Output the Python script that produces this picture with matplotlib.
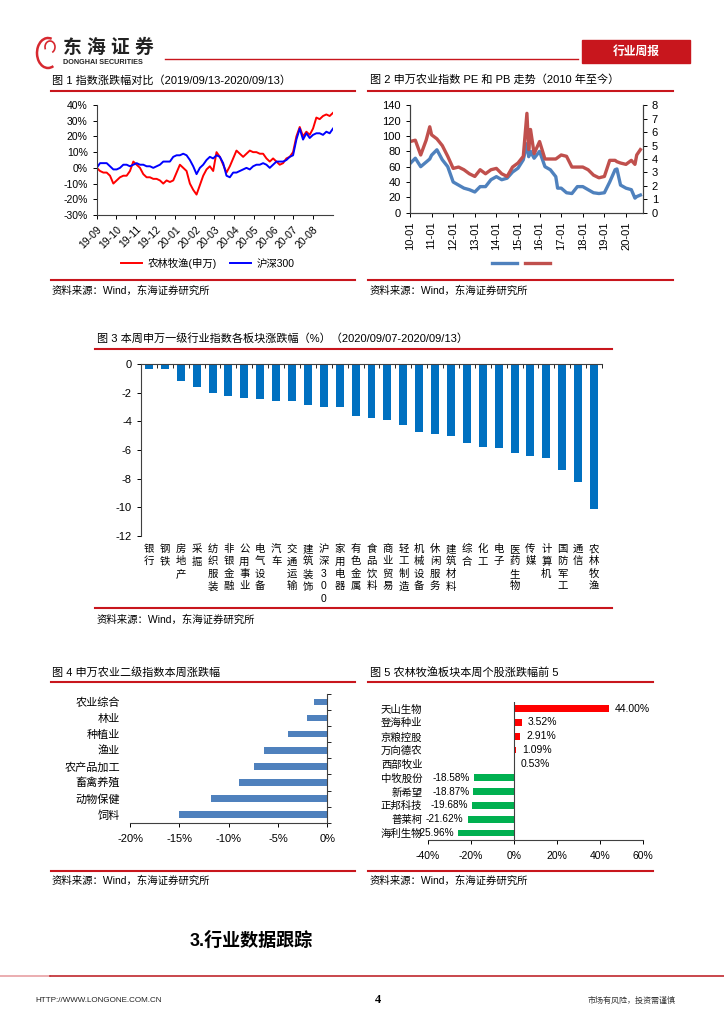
import numpy as np
import pandas as pd
import matplotlib
matplotlib.use("Agg")
import matplotlib.pyplot as plt
from matplotlib.lines import Line2D
from matplotlib.patches import Rectangle, Arc

plt.rcParams['font.family'] = ['Liberation Sans', 'Noto Sans CJK SC', 'DejaVu Sans']
plt.rcParams['axes.unicode_minus'] = False

W, H = 724, 1024
RED = '#C8161D'

# ---- 图1 指数涨跌幅对比 (%) ----
idx_dates = pd.date_range("2019-09-13", "2020-09-13", periods=72)
agri_chg = [0, -2, -3, -3, -5, -10, -8, -6, -5, -5, -2, 4, 2, 0, -4, -6, -6, -7,
            -7, -8, -10, -8, -9, -8, -3, 2, 0, -2, -10, -14, -17, -11, -5, -1, 1, -2,
            10, 7, 2, -3, 1, 6, 11, 9, 7, 9, 11, 10, 10, 9, 9, 6, 4, 6,
            4, 2, 3, 6, 7, 10, 20, 26, 20, 23, 21, 25, 32, 31, 33, 34, 33, 35]
hs300_chg = [0, 3, 3, 3, 1, -1, -1, 0, 2, 2, 1, 2, 3, 2, 2, 1, 1, 0,
             1, 2, 4, 4, 4, 7, 8, 8, 9, 8, 5, 1, -4, 0, 2, 5, 7, 6,
             8, 7, 3, -5, -6, -3, -3, -2, -1, 0, -1, 1, 2, 2, 3, 2, 0, 2,
             4, 4, 4, 5, 7, 8, 18, 25, 18, 22, 19, 21, 22, 22, 21, 23, 22, 25]
fig1_ticks = ['19-09', '19-10', '19-11', '19-12', '20-01', '20-02', '20-03',
              '20-04', '20-05', '20-06', '20-07', '20-08']

# ---- 图2 申万农业指数PE和PB ----
pe_pb_months = ["2010-01", "2010-04", "2010-07", "2010-10", "2010-12",
                "2011-01", "2011-04", "2011-07", "2011-10",
                "2012-01", "2012-04", "2012-07", "2012-10",
                "2013-01", "2013-04", "2013-07", "2013-10",
                "2014-01", "2014-04", "2014-07", "2014-10",
                "2015-01", "2015-04", "2015-06", "2015-07", "2015-08", "2015-10",
                "2016-01", "2016-04", "2016-07", "2016-10", "2016-11",
                "2017-01", "2017-04", "2017-07", "2017-10",
                "2018-01", "2018-04", "2018-07", "2018-10",
                "2019-01", "2019-04", "2019-07", "2019-08", "2019-10",
                "2020-01", "2020-04", "2020-06", "2020-07", "2020-09"]
pe = [64, 71, 60, 66, 70, 75, 82, 69, 60, 40, 36, 32, 30, 27, 34, 34, 43,
      47, 43, 45, 53, 58, 69, 90, 73, 80, 71, 80, 60, 56, 47, 32,
      32, 26, 25, 34, 34, 30, 26, 25, 26, 40, 56, 57, 36, 32, 30, 19, 21, 23]
pb = [5.3, 5.4, 4.3, 5.4, 6.4, 5.8, 5.5, 5.0, 4.2, 3.3, 3.4, 3.2, 2.9,
      2.7, 3.2, 2.9, 3.2, 3.3, 2.9, 2.7, 3.4, 3.7, 4.2, 7.4, 4.7, 6.2, 4.4,
      5.3, 4.0, 4.0, 4.0, 4.1, 4.3, 4.2, 3.4, 3.4, 3.4, 3.2, 2.8, 2.6,
      2.7, 3.9, 3.9, 3.8, 3.7, 3.6, 3.9, 3.6, 4.3, 4.7]
fig2_ticks = ['10-01', '11-01', '12-01', '13-01', '14-01', '15-01', '16-01',
              '17-01', '18-01', '19-01', '20-01']

# ---- 图3 申万一级行业本周涨跌幅 (%) ----
sw_names = ['银行', '钢铁', '房地产', '采掘', '纺织服装', '非银金融', '公用事业',
            '电气设备', '汽车', '交通运输', '建筑装饰', '沪深300', '家用电器',
            '有色金属', '食品饮料', '商业贸易', '轻工制造', '机械设备', '休闲服务',
            '建筑材料', '综合', '化工', '电子', '医药生物', '传媒', '计算机',
            '国防军工', '通信', '农林牧渔']
sw_chg = [-0.35, -0.35, -1.2, -1.6, -2.0, -2.25, -2.37, -2.45, -2.55, -2.55,
          -2.88, -3.0, -3.0, -3.65, -3.77, -3.88, -4.28, -4.77, -4.86, -5.05,
          -5.53, -5.8, -5.88, -6.19, -6.42, -6.58, -7.4, -8.26, -10.14]

# ---- 图4 申万农业二级指数 (%) ----
sub_names = ['农业综合', '林业', '种植业', '渔业', '农产品加工', '畜禽养殖', '动物保健', '饲料']
sub_chg = [-1.35, -2.03, -3.95, -6.4, -7.4, -9.0, -11.8, -15.0]

# ---- 图5 个股涨跌幅前5 (%) ----
stock_names = ['天山生物', '登海种业', '京粮控股', '万向德农', '西部牧业',
               '中牧股份', '新希望', '正邦科技', '普莱柯', '海利生物']
stock_chg = [44.00, 3.52, 2.91, 1.09, 0.53, -18.58, -18.87, -19.68, -21.62, -25.96]

fig = plt.figure(figsize=(W / 100, H / 100), dpi=100)


def add_ax(l, t, r, b):
    return fig.add_axes([l / W, 1 - b / H, (r - l) / W, (b - t) / H])


def ftext(x, y, s, **kw):
    kw.setdefault('va', 'center')
    fig.text(x / W, 1 - y / H, s, **kw)


def hline(x0, x1, y, color=RED, lw=1.5):
    fig.add_artist(Line2D([x0 / W, x1 / W], [1 - y / H] * 2, color=color, lw=lw))


def style(ax, hide):
    for s in hide:
        ax.spines[s].set_visible(False)
    for s in ax.spines.values():
        s.set_color('#404040')
        s.set_linewidth(0.8)
    ax.tick_params(colors='black', width=0.7, length=3, labelsize=7.5)


# ---------- header ----------
fig.add_artist(Arc((48 / W, 1 - 53 / H), 22 / W, 30 / H, theta1=70, theta2=300,
                   color='#D7282F', lw=1.8, transform=fig.transFigure))
fig.add_artist(Arc((50 / W, 1 - 47 / H), 10 / W, 12 / H, theta1=-60, theta2=200,
                   color='#D7282F', lw=1.2, transform=fig.transFigure))
ftext(63, 48, '东 海 证 券', fontsize=13.5, fontweight='bold', color='#222222')
ftext(63, 62, 'DONGHAI SECURITIES', fontsize=5.2, fontweight='bold', color='#222222')
hline(165, 578, 59, lw=1.0)
fig.add_artist(Rectangle((582 / W, 1 - 63 / H), 108 / W, 23 / H, color='#C8161D',
                         transform=fig.transFigure))
ftext(636, 51.5, '行业周报', fontsize=8.5, fontweight='bold', color='white', ha='center')

# ---------- 图1 ----------
ftext(52, 80, '图 1 指数涨跌幅对比（2019/09/13-2020/09/13）', fontsize=8)
hline(51, 355, 91)
ax1 = add_ax(96.7, 105, 333, 215)
l_agri, = ax1.plot(idx_dates, agri_chg, color='#FF0000', lw=1.4)
l_hs, = ax1.plot(idx_dates, hs300_chg, color='#0000FF', lw=1.4)
ax1.set_ylim(-30, 40)
ax1.set_yticks(range(-30, 41, 10))
ax1.set_yticklabels([f'{v}%' for v in range(-30, 41, 10)])
ax1.set_xlim(idx_dates[0], idx_dates[-1])
ax1.set_xticks([idx_dates[0] + pd.DateOffset(months=k) for k in range(len(fig1_ticks))])
ax1.set_xticklabels(fig1_ticks, rotation=45, ha='right', rotation_mode='anchor')
style(ax1, ['top', 'right'])
fig.legend([l_agri, l_hs], ['农林牧渔(申万)', '沪深300'], loc='center',
           bbox_to_anchor=(208 / W, 1 - 263 / H), ncol=2, frameon=False,
           fontsize=7.5, handlelength=2.0, handletextpad=0.6, columnspacing=1.2)
hline(51, 355, 280)
ftext(52, 291, '资料来源：Wind，东海证券研究所', fontsize=7.5)

# ---------- 图2 ----------
ftext(370, 80, '图 2 申万农业指数 PE 和 PB 走势（2010 年至今）', fontsize=8)
hline(368, 673, 91)
ax2 = add_ax(410, 105.3, 642.7, 212.7)
ax2r = ax2.twinx()
months = pd.to_datetime(pe_pb_months)
l_pe, = ax2.plot(months, pe, color='#4F81BD', lw=2.4)
l_pb, = ax2r.plot(months, pb, color='#C0504D', lw=2.4)
ax2.set_ylim(0, 140)
ax2.set_yticks(range(0, 141, 20))
ax2r.set_ylim(0, 8)
ax2r.set_yticks(range(0, 9))
ax2.set_xlim(pd.Timestamp('2010-01-01'), pd.Timestamp('2020-10-10'))
ax2.set_xticks([pd.Timestamp(f'20{t[:2]}-01-01') for t in fig2_ticks])
ax2.set_xticklabels(fig2_ticks, rotation=90)
style(ax2, ['top'])
style(ax2r, ['top'])
ax2.tick_params(labelsize=8)
ax2r.tick_params(labelsize=8)
fig.legend([l_pe, l_pb], ['', ''], loc='center',
           bbox_to_anchor=(521 / W, 1 - 263 / H), ncol=2, frameon=False,
           fontsize=7, handlelength=2.6, handletextpad=0, columnspacing=0.8)
hline(368, 673, 280)
ftext(370, 291, '资料来源：Wind，东海证券研究所', fontsize=7.5)

# ---------- 图3 ----------
ftext(97, 338, '图 3 本周申万一级行业指数各板块涨跌幅（%）（2020/09/07-2020/09/13）', fontsize=8)
hline(95, 612, 349)
ax3 = add_ax(141, 364.3, 602, 535.7)
x3 = np.arange(len(sw_names))
ax3.bar(x3, sw_chg, width=0.5, color='#0070C0')
ax3.set_xlim(-0.5, len(sw_names) - 0.5)
ax3.set_ylim(-12, 0)
ax3.set_yticks(range(-12, 1, 2))
style(ax3, ['right', 'bottom'])
ax3.set_xticks(x3)
ax3.set_xticklabels(['\n'.join(n) for n in sw_names], fontsize=7.5, linespacing=1.3, va='top')
ax3.set_xticks(np.arange(-0.5, len(sw_names), 1), minor=True)
ax3.tick_params(axis='x', which='major', length=0, pad=6)
ax3.xaxis.set_tick_params(which='minor', bottom=False, top=True, direction='in', length=3)
ax3.tick_params(axis='y', labelsize=8)
hline(95, 612, 608)
ftext(97, 620, '资料来源：Wind，东海证券研究所', fontsize=7.5)

# ---------- 图4 ----------
ftext(52, 672, '图 4 申万农业二级指数本周涨跌幅', fontsize=8)
hline(51, 355, 682)
ax4 = add_ax(130, 694, 327.3, 822.7)
y4 = np.arange(len(sub_names))
ax4.barh(y4, sub_chg, height=0.4, color='#4F81BD')
ax4.set_xlim(-20, 0)
ax4.set_ylim(len(sub_names) - 0.5, -0.5)
ax4.set_xticks(range(-20, 1, 5))
ax4.set_xticklabels([f'{v}%' for v in range(-20, 1, 5)])
ax4.set_yticks(y4)
ax4.set_yticklabels(sub_names)
style(ax4, ['left', 'top'])
ax4.tick_params(axis='y', which='major', length=0, pad=7, labelsize=8)
ax4.tick_params(axis='x', labelsize=8, pad=5)
ax4.set_yticks(np.arange(-0.5, len(sub_names), 1), minor=True)
ax4.yaxis.set_tick_params(which='minor', left=False, right=True, direction='out', length=3)
hline(51, 355, 871)
ftext(52, 881, '资料来源：Wind，东海证券研究所', fontsize=7.5)

# ---------- 图5 ----------
ftext(370, 672, '图 5 农林牧渔板块本周个股涨跌幅前 5', fontsize=8)
hline(368, 653, 682)
ax5 = add_ax(428, 701.7, 643.3, 840)
y5 = np.arange(len(stock_names))
colors5 = ['#FF0000' if v > 0 else '#00B050' for v in stock_chg]
ax5.barh(y5, stock_chg, height=0.48, color=colors5)
ax5.set_xlim(-40, 60)
ax5.set_ylim(len(stock_names) - 0.5, -0.5)
ax5.axvline(0, color='#404040', lw=0.8)
ax5.set_xticks(range(-40, 61, 20))
ax5.set_xticklabels([f'{v}%' for v in range(-40, 61, 20)])
ax5.set_yticks(y5)
ax5.set_yticklabels(stock_names)
style(ax5, ['left', 'top', 'right'])
ax5.tick_params(axis='y', length=0, pad=4, labelsize=7.5)
ax5.tick_params(axis='x', labelsize=7.5, pad=5)
for i, v in enumerate(stock_chg):
    if v > 0:
        ax5.annotate(f'{v:.2f}%', (v, i), xytext=(4, 0), textcoords='offset points',
                     ha='left', va='center', fontsize=7.5)
    else:
        ax5.annotate(f'{v:.2f}%', (v, i), xytext=(-3, 0), textcoords='offset points',
                     ha='right', va='center', fontsize=7.2)
hline(368, 653, 871)
ftext(370, 881, '资料来源：Wind，东海证券研究所', fontsize=7.5)

# ---------- footer ----------
ftext(190, 941, '3.行业数据跟踪', fontsize=13, fontweight='bold')
hline(0, 50, 976, color='#E8A0A3', lw=1.2)
hline(50, 724, 976, color='#C0272D', lw=1.2)
ftext(35, 1001, 'HTTP://WWW.LONGONE.COM.CN', fontsize=5.8, color='#222222')
ftext(378, 1000, '4', fontsize=9, fontweight='bold', family='Liberation Serif', ha='center')
ftext(588, 1001, '市场有风险，投资需谨慎', fontsize=5.8, color='#333333')

fig.savefig('out.png', dpi=100, facecolor='white')
